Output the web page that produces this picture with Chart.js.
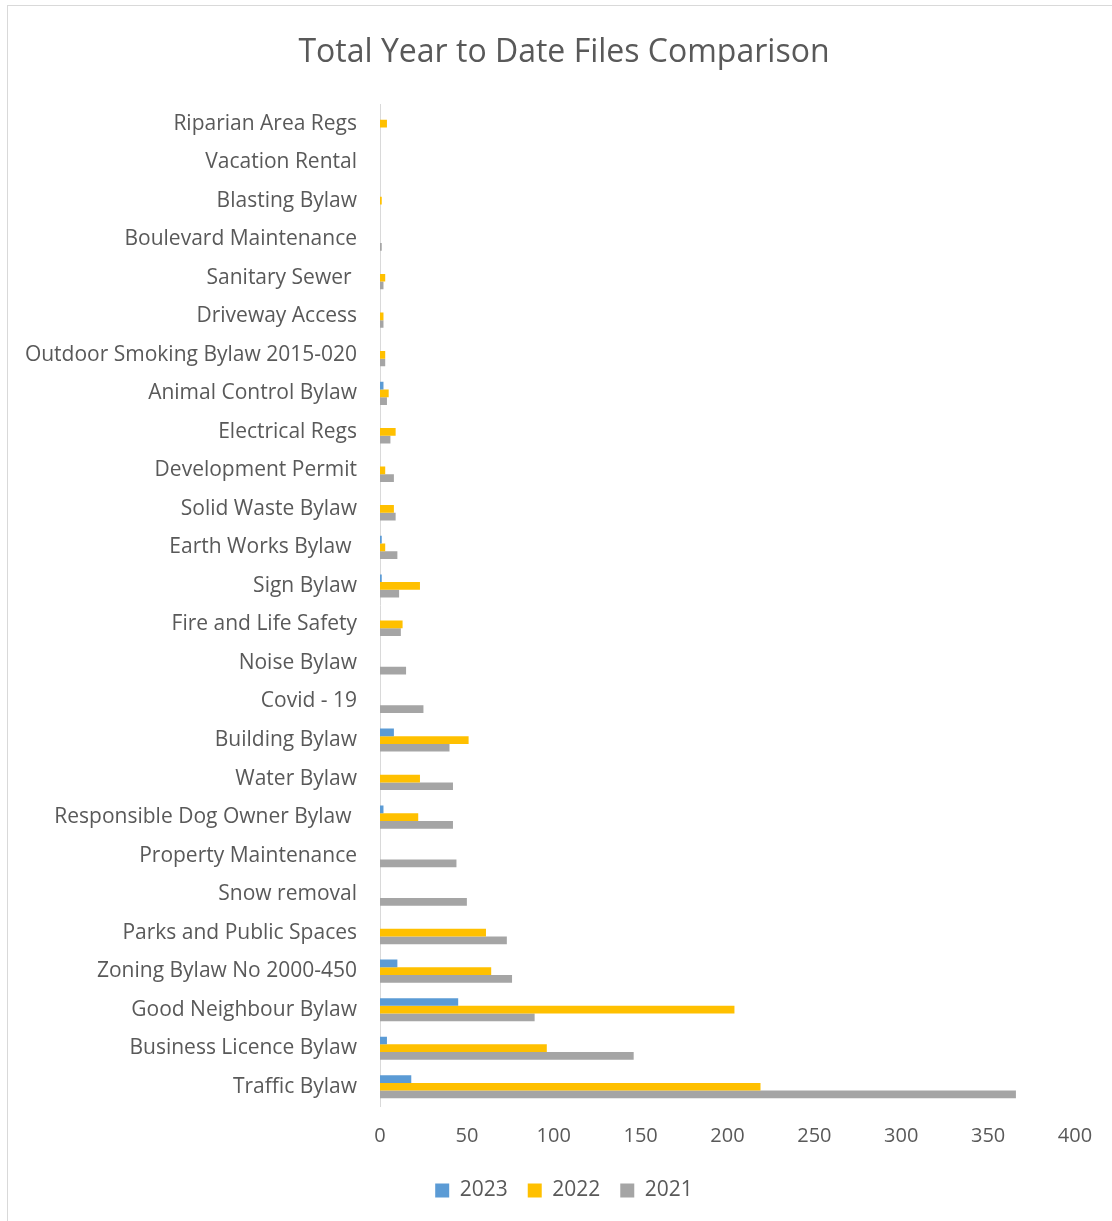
<!DOCTYPE html>
<html>
<head>
<meta charset="utf-8">
<script src="https://cdn.jsdelivr.net/npm/chart.js@4.4.1/dist/chart.umd.min.js"></script>
<style>
  body { margin: 0; background: #fff; }
  #frame { position: absolute; left: 7px; top: 5px; width: 1110px; height: 1220px; border: 1px solid #d9d9d9; box-sizing: border-box; }
  #grafico { position: absolute; left: 0; top: 0; }
</style>
</head>
<body>
<div id="frame"></div>
<canvas id="grafico" width="1112" height="1221"></canvas>
<script>
// Categorias, de cima para baixo
const categorias = [
  'Riparian Area Regs', 'Vacation Rental', 'Blasting Bylaw', 'Boulevard Maintenance',
  'Sanitary Sewer ', 'Driveway Access', 'Outdoor Smoking Bylaw 2015-020', 'Animal Control Bylaw',
  'Electrical Regs', 'Development Permit', 'Solid Waste Bylaw', 'Earth Works Bylaw ',
  'Sign Bylaw', 'Fire and Life Safety', 'Noise Bylaw', 'Covid - 19',
  'Building Bylaw', 'Water Bylaw', 'Responsible Dog Owner Bylaw ', 'Property Maintenance',
  'Snow removal', 'Parks and Public Spaces', 'Zoning Bylaw No 2000-450', 'Good Neighbour Bylaw',
  'Business Licence Bylaw', 'Traffic Bylaw'
];

const valores2023 = [0, 0, 0, 0, 0, 0, 0, 2, 0, 0, 0, 1, 1, 0, 0, 0, 8, 0, 2, 0, 0, 0, 10, 45, 4, 18];
const valores2022 = [4, 0, 1, 0, 3, 2, 3, 5, 9, 3, 8, 3, 23, 13, 0, 0, 51, 23, 22, 0, 0, 61, 64, 204, 96, 219];
const valores2021 = [0, 0, 0, 1, 2, 2, 3, 4, 6, 8, 9, 10, 11, 12, 15, 25, 40, 42, 42, 44, 50, 73, 76, 89, 146, 366];

const ticksX = [0, 50, 100, 150, 200, 250, 300, 350, 400];

const fonte = '"Open Sans", "DejaVu Sans", sans-serif';
const corTexto = '#595959';

// Evita que os rótulos longos do eixo Y sejam cortados pela área do eixo
const semCorteY = {
  id: 'semCorteY',
  afterLayout: chart => { chart.scales.y.left = 0; }
};

new Chart(document.getElementById('grafico').getContext('2d'), {
  type: 'bar',
  data: {
    labels: categorias,
    datasets: [
      { label: '2023', data: valores2023, backgroundColor: '#5B9BD5' },
      { label: '2022', data: valores2022, backgroundColor: '#FFC000' },
      { label: '2021', data: valores2021, backgroundColor: '#A5A5A5' }
    ]
  },
  plugins: [semCorteY],
  options: {
    indexAxis: 'y',
    responsive: false,
    animation: false,
    categoryPercentage: 0.6,
    barPercentage: 1,
    // padding esquerdo maior que o direito pra centralizar título/legenda como no original
    layout: { padding: { left: 53, right: 37, top: 0, bottom: 10 } },
    plugins: {
      title: {
        display: true,
        text: 'Total Year to Date Files Comparison',
        color: corTexto,
        font: { family: fonte, size: 32, weight: 'normal' },
        padding: { top: 34, bottom: 32 }
      },
      legend: {
        position: 'bottom',
        labels: {
          color: corTexto,
          font: { family: fonte, size: 21 },
          boxWidth: 14,
          boxHeight: 14,
          padding: 20
        }
      },
      tooltip: { enabled: false }
    },
    scales: {
      x: {
        min: 0,
        max: 400,
        afterBuildTicks: s => { s.ticks = ticksX.map(v => ({ value: v })); },
        grid: { display: false },
        border: { display: false },
        ticks: { color: corTexto, font: { family: fonte, size: 20 }, padding: 10 },
        afterFit: s => { s.height = 54; }
      },
      y: {
        grid: { display: false },
        border: { display: true, color: '#d9d9d9', width: 1 },
        ticks: { color: corTexto, font: { family: fonte, size: 21 }, padding: 15 },
        afterFit: s => { s.width = 327; }
      }
    }
  }
});
</script>
</body>
</html>
